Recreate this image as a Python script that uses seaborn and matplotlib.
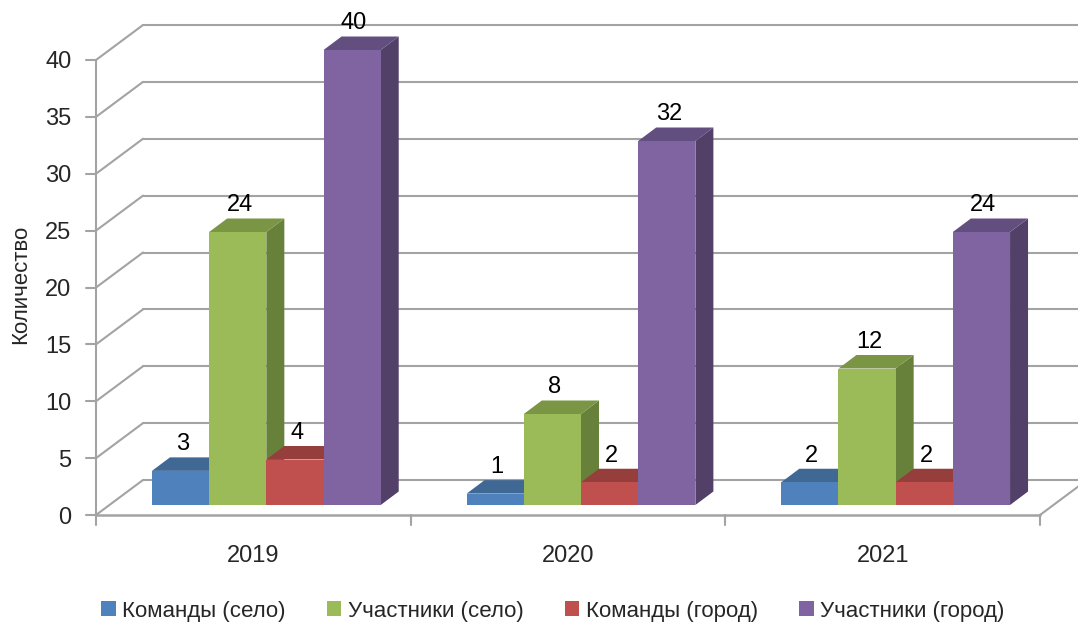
import numpy as np
import pandas as pd
import matplotlib
matplotlib.use('Agg')
import matplotlib.pyplot as plt
import seaborn as sns
from matplotlib.patches import Polygon, Patch

# ---- data ----
years = ['2019', '2020', '2021']
series = ['Команды (село)', 'Участники (село)', 'Команды (город)', 'Участники (город)']
teams_village = [3, 1, 2]
participants_village = [24, 8, 12]
teams_city = [4, 2, 2]
participants_city = [40, 32, 24]
y_ticks = [0, 5, 10, 15, 20, 25, 30, 35, 40]
y_label = 'Количество'

front_colors = ['#4F81BD', '#9BBB59', '#C0504D', '#8064A2']
side_colors = ['#3A5F8A', '#67803A', '#8E3A38', '#524068']
top_colors = ['#3F6894', '#7A9645', '#963E3B', '#634E80']

df = pd.DataFrame({
    'Год': years * 4,
    'Серия': np.repeat(series, len(years)),
    'Количество': teams_village + participants_village + teams_city + participants_city,
})

sns.set_theme(style='white')
plt.rcParams['font.family'] = ['Liberation Sans', 'DejaVu Sans']

W, H = 1078, 623
fig = plt.figure(figsize=(W / 100, H / 100), dpi=100)
L, R, B, T = 109, 1053, 517, 15          # axes box in pixels (bar plane)
ppu = (505 - 50) / 40.0                  # pixels per unit
px2dx = 3.0 / (R - L)
px2dy = 1.0 / ppu
ax = fig.add_axes([L / W, (H - B) / H, (R - L) / W, (B - T) / H])

sns.barplot(data=df, x='Год', y='Количество', hue='Серия', order=years,
            hue_order=series, palette=front_colors, width=0.727, saturation=1,
            legend=False, ax=ax, zorder=3, linewidth=0, edgecolor='none')

ax.set_xlim(-0.5, 2.5)
ax.set_ylim(-12 * px2dy, (505 - T) * px2dy)
for s in ax.spines.values():
    s.set_visible(False)
ax.grid(False)

# plane offsets
fdx, fdy = -13 * px2dx, -10 * px2dy
bdx, bdy = 34 * px2dx, 25 * px2dy
gc = '#a3a3a3'
glw = 1.5

for v in y_ticks:
    ax.plot([-0.5 + fdx, -0.5 + bdx], [v + fdy, v + bdy], color=gc, lw=glw, zorder=1, clip_on=False)
    ax.plot([-0.5 + bdx, 2.5 + bdx + 0.2], [v + bdy, v + bdy], color=gc, lw=glw, zorder=1, clip_on=False)
    ax.plot([-0.5 + fdx - 10 * px2dx, -0.5 + fdx], [v + fdy, v + fdy], color=gc, lw=glw, zorder=1, clip_on=False)
ax.plot([-0.5 + fdx, -0.5 + fdx], [fdy, 40 + fdy], color=gc, lw=glw, zorder=1, clip_on=False)
ax.plot([-0.5 + fdx, 2.5 + fdx], [fdy, fdy], color=gc, lw=glw + 0.3, zorder=1, clip_on=False)
ax.plot([2.5 + fdx, 2.5 + bdx], [fdy, bdy], color=gc, lw=glw, zorder=1, clip_on=False)
for k in [-0.5, 0.5, 1.5, 2.5]:
    ax.plot([k + fdx, k + fdx], [fdy, fdy - 10 * px2dy], color=gc, lw=glw, zorder=1, clip_on=False)

# 3D faces and labels
ddx, ddy = 18 * px2dx, 13.5 * px2dy
for i, cont in enumerate(ax.containers):
    for p in cont.patches:
        x0, w, h = p.get_x(), p.get_width(), p.get_height()
        top = Polygon([(x0, h), (x0 + w, h), (x0 + w + ddx, h + ddy), (x0 + ddx, h + ddy)],
                      closed=True, facecolor=top_colors[i], edgecolor='none', zorder=2)
        side = Polygon([(x0 + w, 0), (x0 + w + ddx, ddy), (x0 + w + ddx, h + ddy), (x0 + w, h)],
                       closed=True, facecolor=side_colors[i], edgecolor='none', zorder=2)
        ax.add_patch(side)
        ax.add_patch(top)
        ax.annotate(f'{h:g}', (x0 + w / 2 + 2 * px2dx, h + ddy), xytext=(0, 1.5),
                    textcoords='offset points', ha='center', va='bottom',
                    fontsize=17, color='black', zorder=5)

ax.set_yticks([v + fdy for v in y_ticks])
ax.set_yticklabels([str(v) for v in y_ticks], fontsize=17)
ax.set_xticks([k + fdx for k in range(len(years))])
ax.set_xticklabels(years, fontsize=17)
ax.tick_params(axis='y', length=0, pad=27)
ax.tick_params(axis='x', length=0, pad=20)
ax.set_xlabel('')
ax.set_ylabel(y_label, fontsize=16)
ax.yaxis.set_label_coords((31 - L) / (R - L), (B - 284) / (B - T))

handles = [Patch(facecolor=c, edgecolor='none') for c in front_colors]
fig.legend(handles, series, loc='center', bbox_to_anchor=(553 / W, (H - 611) / H),
           ncol=4, frameon=False, fontsize=16, handlelength=0.65, handleheight=0.65,
           handletextpad=0.3, columnspacing=1.85, borderpad=0)

fig.savefig('out.png', dpi=100)
